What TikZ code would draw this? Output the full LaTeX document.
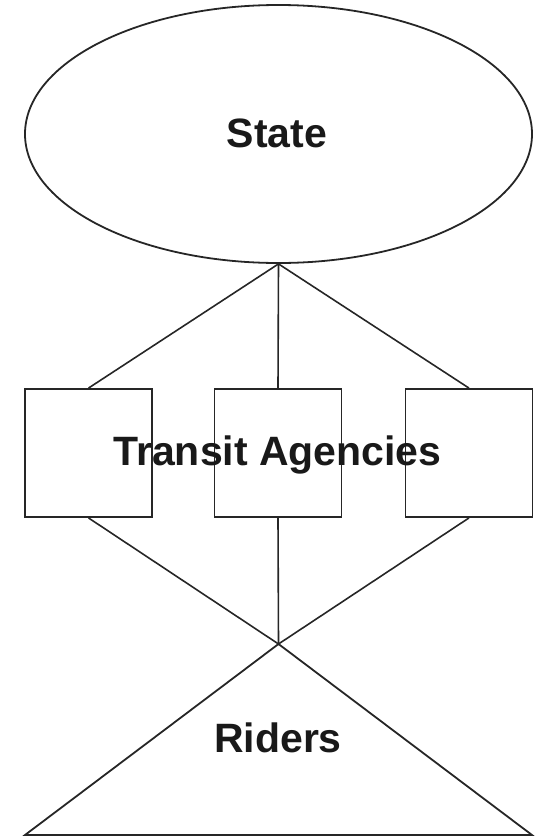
\documentclass[tikz,border=0pt]{standalone}
\usepackage{fontspec}
\setmainfont{Liberation Sans}
\usetikzlibrary{shapes.geometric}
\begin{document}
\begin{tikzpicture}[x=1pt,y=-1pt,
  outline/.style={draw=black!85,line width=1.8pt},
  link/.style={draw=black!85,line width=1.6pt},
  agency/.style={outline,rectangle,minimum width=127pt,minimum height=128pt,inner sep=0pt},
  caption/.style={font=\fontsize{41}{48}\selectfont\bfseries,text=black!90,anchor=base,inner sep=0pt}]
  \useasboundingbox (0,0) rectangle (540,838);

  % state at the top
  \node[outline,ellipse,minimum width=507pt,minimum height=258pt,inner sep=0pt] (state) at (278.5,134) {};
  \node[caption] (statelbl) at (277,147) {State};

  % the three agencies
  \node[agency] (ag1) at (88.5,453) {};
  \node[agency] (ag2) at (278,453) {};
  \node[agency] (ag3) at (469,453) {};
  \node[caption] (aglbl) at (277.5,465) {Transit Agencies};

  % riders triangle
  \coordinate (apex) at (278.5,644);
  \coordinate (baseL) at (25,835);
  \coordinate (baseR) at (532,835);
  \draw[outline,line join=miter] (apex) -- (baseL) -- (baseR) -- cycle;
  \node[caption] (riderlbl) at (278,752) {Riders};

  % connections
  \draw[link] (state.south) -- (ag1.north);
  \draw[link] (state.south) -- (ag2.north);
  \draw[link] (state.south) -- (ag3.north);
  \draw[link] (ag1.south) -- (apex);
  \draw[link] (ag2.south) -- (apex);
  \draw[link] (ag3.south) -- (apex);
\end{tikzpicture}
\end{document}
